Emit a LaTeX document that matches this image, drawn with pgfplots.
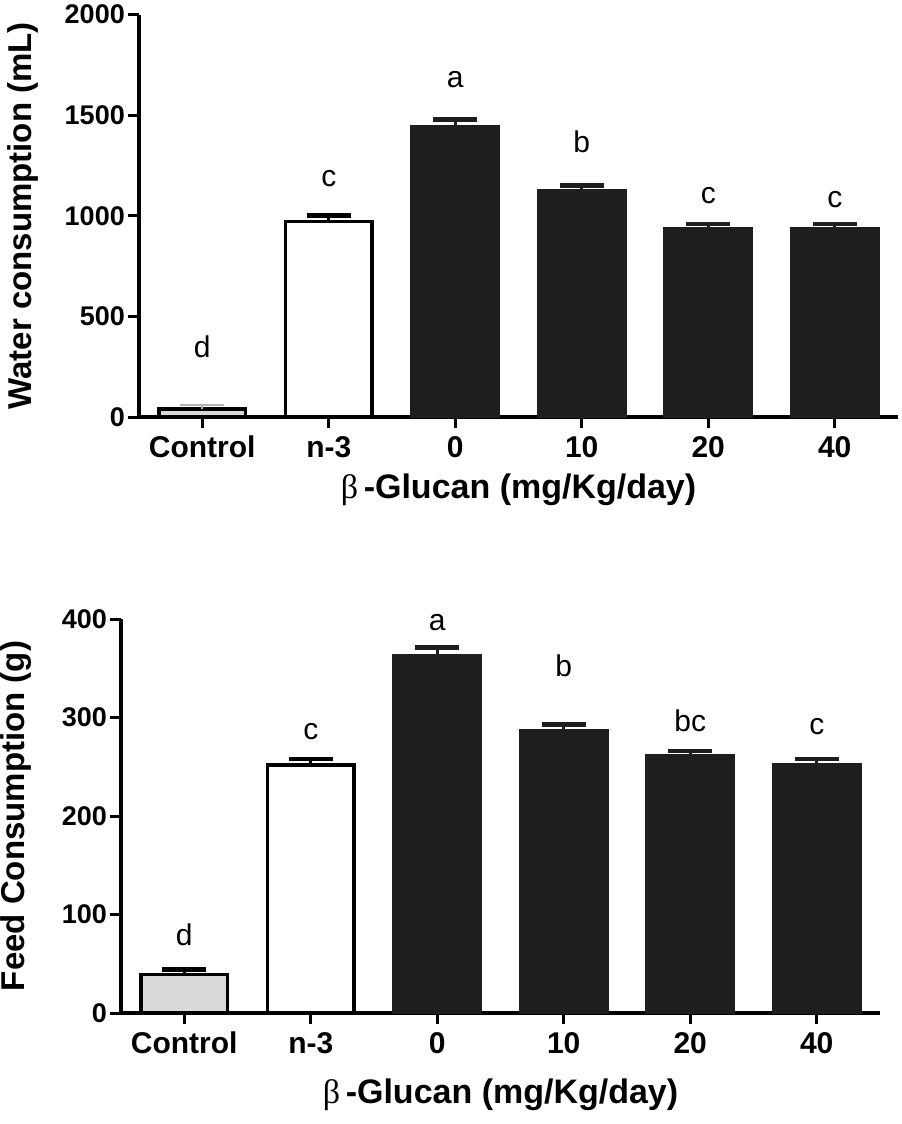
\documentclass[border=0pt]{standalone}
\usepackage{pgfplots}
\pgfplotsset{compat=1.18}
\usepackage{fontspec}
\setmainfont{Liberation Sans}
\newfontfamily\betafont{Liberation Serif}
\definecolor{barblack}{HTML}{1E1E1E}
\definecolor{ctrlgrey}{HTML}{D9D9D9}
\newcommand{\fs}[1]{\fontsize{#1bp}{#1bp}\selectfont}
\pgfplotsset{
  gpstyle/.style={
    scale only axis, width=759bp,
    axis lines=left,
    axis line style={-, line width=3.5bp},
    xmin=-0.5, xmax=5.5,
    xtick={0,1,2,3,4,5},
    xticklabels={Control,n-3,0,10,20,40},
    tick align=outside,
    major tick length=11bp,
    major tick style={black, line width=3bp},
    xticklabel style={font=\fs{30}\bfseries, inner sep=0pt, yshift=-8bp},
    yticklabel style={font=\fs{27}\bfseries, inner sep=0pt, xshift=-3bp},
    xlabel={{\mdseries\betafont β}\,-Glucan (mg/Kg/day)},
    ylabel style={font=\fs{33}\bfseries, anchor=center},
    clip=false,
    every node near coord/.append style={font=\fs{30}, inner sep=0pt, black},
  },
  ctrlbartop/.style={ybar, bar shift=0pt, bar width=0.68, fill=ctrlgrey, draw=black, line width=3.5bp,
    error bars/.cd, y dir=plus, y explicit,
    error bar style={line width=2bp, gray!60},
    error mark options={rotate=90, mark size=22bp, line width=2.5bp, gray!60}},
  ctrlbar/.style={ybar, bar shift=0pt, bar width=0.68, fill=ctrlgrey, draw=black, line width=3.5bp,
    error bars/.cd, y dir=plus, y explicit,
    error bar style={line width=3bp, black},
    error mark options={rotate=90, mark size=22bp, line width=4.5bp, black}},
  whitebar/.style={ybar, bar shift=0pt, bar width=0.68, fill=white, draw=black, line width=3.5bp,
    error bars/.cd, y dir=plus, y explicit,
    error bar style={line width=3bp, black},
    error mark options={rotate=90, mark size=22bp, line width=4.5bp, black}},
  blackbar/.style={ybar, bar shift=0pt, bar width=0.70, fill=barblack, draw=barblack, line width=1bp,
    error bars/.cd, y dir=plus, y explicit,
    error bar style={line width=3bp, barblack},
    error mark options={rotate=90, mark size=22bp, line width=4.5bp, barblack}},
}
\begin{document}
\begin{tikzpicture}
\useasboundingbox (0,0) rectangle (902bp,-1124bp);
% ---------- Top panel ----------
\begin{axis}[gpstyle,
  at={(139bp,-417bp)}, anchor=south west,
  height=402.5bp,
  ymin=0, ymax=2000,
  ytick={0,500,1000,1500,2000},
  yticklabels={0,500,1000,1500,2000},
  ylabel={Water consumption (mL)},
  ylabel style={at={(axis description cs:-0.153,0.5)}},
  xlabel style={font=\fs{34}\bfseries, at={(axis description cs:0.5,-0.181)}, anchor=center},
]
\addplot[ctrlbartop] coordinates {(0,40) +- (0,20)};
\addplot[whitebar] coordinates {(1,972) +- (0,30)};
\addplot[blackbar] coordinates {(2,1449) +- (0,30) (3,1131) +- (0,20) (4,941) +- (0,17) (5,941) +- (0,17)};
\addplot[draw=none, mark=none, nodes near coords, point meta=explicit symbolic]
  coordinates {(0,293)[d] (1,1141)[c] (2,1633)[a] (3,1310)[b] (4,1057)[c] (5,1037)[c]};
\end{axis}
% ---------- Bottom panel ----------
\begin{axis}[gpstyle,
  at={(121bp,-1013bp)}, anchor=south west,
  height=394bp,
  ymin=0, ymax=400,
  ytick={0,100,200,300,400},
  yticklabels={0,100,200,300,400},
  ylabel={Feed Consumption (g)},
  ylabel style={at={(axis description cs:-0.138,0.5)}},
  xlabel style={font=\fs{34}\bfseries, at={(axis description cs:0.5,-0.208)}, anchor=center},
]
\addplot[ctrlbar] coordinates {(0,39) +- (0,5)};
\addplot[whitebar] coordinates {(1,252) +- (0,6)};
\addplot[blackbar] coordinates {(2,364) +- (0,7) (3,288) +- (0,5) (4,262) +- (0,4) (5,253) +- (0,5)};
\addplot[draw=none, mark=none, nodes near coords, point meta=explicit symbolic]
  coordinates {(0,68)[d] (1,277)[c] (2,388)[a] (3,341)[b] (4,285)[bc] (5,282)[c]};
\end{axis}
\end{tikzpicture}
\end{document}
